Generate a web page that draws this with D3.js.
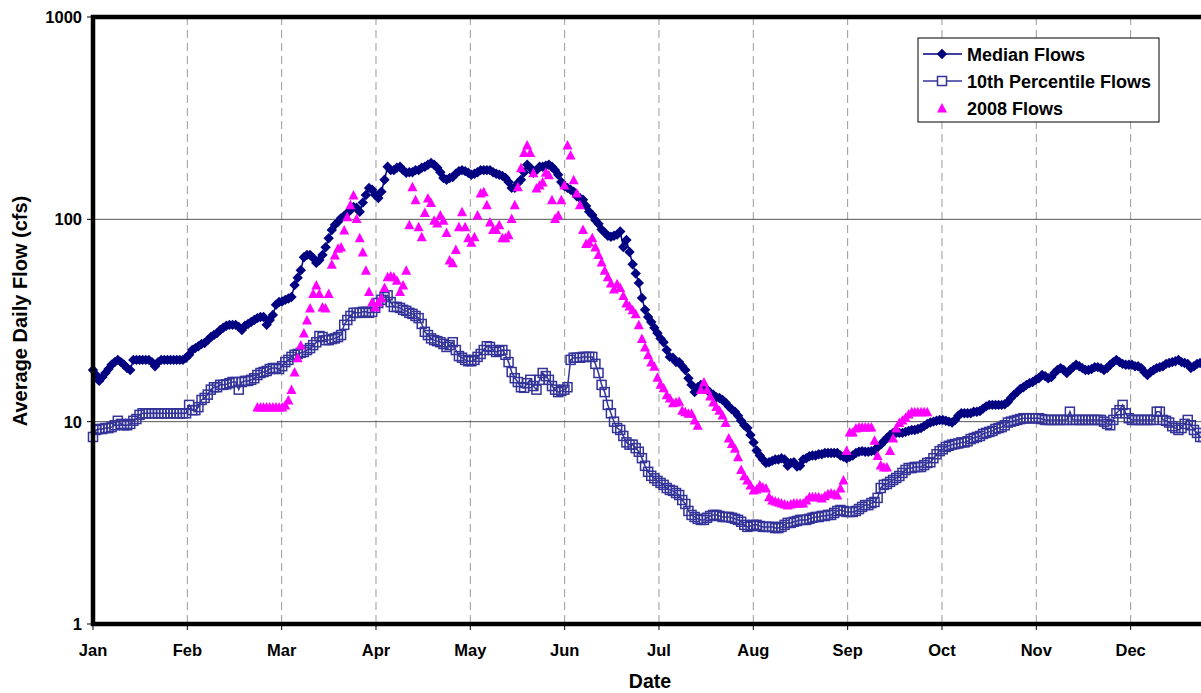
<!DOCTYPE html>
<html>
<head>
<meta charset="utf-8">
<script src="https://cdn.jsdelivr.net/npm/d3@7"></script>
<style>
  body { margin: 0; background: #fff; }
  svg { display: block; font-family: "Liberation Sans", Arial, sans-serif; font-weight: bold; }
</style>
</head>
<body>
<svg id="chart" width="1201" height="693"></svg>
<script>
// Month labels along the date axis
const monthLabels = ["Jan", "Feb", "Mar", "Apr", "May", "Jun", "Jul", "Aug", "Sep", "Oct", "Nov", "Dec"];
// Decade ticks on the log flow axis
const flowTicks = [1, 10, 100, 1000];

// Median daily flow (cfs), one value per day of the year
const medianFlows = [
  18.0,17.0,15.9,16.6,17.4,18.2,19.1,19.7,20.2,19.7,19.1,18.4,18.0,20.2,20.2,20.2,20.2,20.2,20.2,19.7,18.8,19.7,20.2,20.2,20.2,20.2,20.2,20.2,20.2,20.2,20.7,
  21.4,22.6,23.1,23.6,24.2,24.5,25.3,26.2,26.8,27.4,28.4,29.1,29.8,30.1,30.1,30.1,29.4,28.4,29.8,30.4,31.1,31.8,32.5,32.9,32.9,30.1,31.8,33.7,
  37.8,39.0,39.3,40.0,40.6,41.3,47.3,51.4,56.0,65.0,66.7,66.7,64.4,60.9,62.9,66.7,72.8,80.7,88.6,93.9,97.2,101.4,103.8,107.4,111,115,114,109,121,132,143,
  140,132,127.5,137,157,182,175,175,180,182,175,170,171,171,175,175,180,182,186,190,186,180,171,160,157,160,162,168,173,175,
  173,170,166,168,171,175,175,175,175,171,168,166,164,160,153,143,143,151,157,171,186,180,170,175,182,182,184,186,182,175,166,
  153,146,143,140,137,130,127.5,125,116.5,109,105,99,95,89,86,83,82,83,84,87,73,79,69,60,54,48.5,40.9,35.7,32.9,31.1,
  29.1,27.4,25.8,24.7,22.6,20.9,20.7,19.7,19.7,18.8,18.0,16.4,15.2,14.0,14.8,15.2,14.7,14.4,13.9,13.6,13.2,13.1,12.8,12.4,11.9,11.5,11.2,10.7,10.1,9.6,9.3,
  8.6,7.9,7.2,6.8,6.5,6.25,6.3,6.4,6.5,6.5,6.6,6.5,6.05,6.25,6.3,6.0,6.05,6.5,6.6,6.75,6.8,6.8,6.9,6.9,7.0,7.0,7.0,7.0,7.0,6.8,6.7,
  6.6,6.7,6.8,7.0,7.1,7.15,7.1,7.1,7.15,7.2,7.5,7.7,8.0,8.3,8.6,8.8,8.8,8.8,8.8,8.9,9.0,9.1,9.1,9.2,9.3,9.5,9.75,9.9,10.0,10.1,
  10.2,10.2,10.1,10.0,9.9,10.2,10.7,11.0,11.0,11.0,11.0,11.2,11.2,11.3,11.6,11.9,12.1,12.1,12.1,12.1,12.1,12.2,12.5,13.1,13.6,14.0,14.5,14.8,15.2,15.5,15.7,
  16.1,16.4,17.0,16.8,16.4,16.6,17.4,18.0,18.4,18.0,17.4,18.0,18.6,19.1,18.8,18.4,18.0,18.0,18.2,18.6,18.6,18.4,18.0,18.4,19.1,19.7,20.2,19.7,19.3,19.1,
  19.1,19.1,18.8,18.8,18.4,17.6,17.0,17.6,18.0,18.4,18.6,18.8,19.3,19.5,19.7,19.9,20.2,19.7,19.5,19.3,18.4,18.8,19.3,19.5,19.5,19.3,18.8,18.6,18.4,18.4,18.2
];

// 10th percentile daily flow (cfs), one value per day of the year
const tenthPercentileFlows = [
  8.4,9.1,9.2,9.2,9.3,9.3,9.4,9.6,10.1,9.75,9.6,9.6,9.75,10.1,10.3,10.8,11.0,11.0,11.0,11.0,11.0,11.0,11.0,11.0,11.0,11.0,11.0,11.0,11.0,11.0,11.0,
  12.1,11.4,11.4,11.8,12.8,13.1,13.6,14.4,14.8,14.8,15.2,15.2,15.3,15.5,15.7,15.7,14.4,15.7,15.9,15.9,16.1,16.4,17.0,17.4,17.6,17.8,18.2,18.4,
  18.4,18.2,18.8,19.7,20.2,20.9,21.4,21.6,21.9,22.1,22.6,23.1,23.9,24.7,26.5,26.2,25.3,25.3,25.6,25.8,26.2,26.8,30.1,31.8,33.3,34.5,34.5,34.5,34.9,34.9,34.5,
  34.9,36.5,38.6,40.0,41.3,42.1,39.0,36.9,36.9,36.5,35.7,35.3,34.5,34.1,33.3,32.5,30.4,27.8,26.8,25.8,25.3,25.0,24.7,24.2,23.4,23.9,24.7,22.6,21.1,20.7,
  20.2,19.9,19.9,20.2,20.9,21.6,22.6,23.6,23.4,22.6,22.1,22.4,22.6,21.4,19.7,17.6,16.4,15.7,14.8,14.7,15.5,16.1,15.0,14.4,16.1,17.4,16.8,16.1,15.0,14.4,14.0,
  14.2,14.4,14.8,20.2,20.7,20.7,20.7,20.9,20.9,20.9,20.9,19.3,17.4,15.2,14.0,12.1,11.0,10.0,9.3,9.1,8.5,7.9,7.7,7.7,7.4,7.1,6.6,6.05,5.65,5.4,
  5.25,5.1,4.98,4.87,4.7,4.6,4.55,4.44,4.34,4.1,3.92,3.62,3.46,3.38,3.31,3.27,3.27,3.35,3.42,3.46,3.46,3.42,3.38,3.38,3.38,3.35,3.31,3.27,3.2,3.09,3.02,
  3.05,3.09,3.09,3.05,3.02,3.02,3.02,3.02,2.98,2.98,3.02,3.09,3.16,3.16,3.2,3.23,3.27,3.27,3.27,3.31,3.35,3.38,3.38,3.42,3.42,3.46,3.46,3.54,3.62,3.66,3.62,
  3.58,3.58,3.58,3.62,3.7,3.79,3.87,3.87,3.96,4.01,4.2,4.7,4.87,4.92,5.04,5.15,5.27,5.39,5.58,5.77,5.9,5.9,5.97,5.97,5.97,6.1,6.25,6.3,6.6,6.9,
  7.15,7.3,7.5,7.6,7.7,7.75,7.8,7.9,7.9,8.0,8.2,8.3,8.4,8.5,8.7,8.8,8.9,9.0,9.2,9.3,9.4,9.6,9.9,10.0,10.1,10.2,10.3,10.4,10.4,10.4,10.4,
  10.4,10.4,10.3,10.2,10.2,10.2,10.2,10.2,10.2,10.2,10.2,11.2,10.2,10.2,10.2,10.2,10.2,10.2,10.2,10.2,10.2,10.2,10.0,9.75,9.6,10.2,11.0,11.4,12.1,11.0,
  10.4,10.2,10.2,10.2,10.2,10.2,10.2,10.2,10.2,11.2,11.2,10.2,10.1,9.9,9.5,9.3,9.1,9.3,9.75,10.2,9.6,9.1,8.8,8.4,8.4,8.5,8.6,8.7,8.8,8.9,9.0
];

// 2008 daily flow (cfs); the record starts on day index 53 (Feb 23)
const flows2008StartDay = 53;
const flows2008 = [
  11.8,11.8,11.8,11.8,11.8,11.8,
  11.8,11.8,11.8,12.1,12.8,14.4,17.6,20.7,23.9,27.4,31.8,36.5,43,47.3,43,36.9,36.5,43,60,66.7,72,73,88.6,103,118,132,101,81,69,56,44,
  39,36.9,39,41,46,52,52.4,52,50,44,47.3,56,94,145,125,92,82,108,127.5,121,99,96,105,99,86,63,61,71,92,109,
  92,81,77,82,105,135,137,118,97,89,89,94,81,81,84,101,118,145,180,214,233,214,170,143,148,153,171,166,125,101,105,
  125,148,233,208,157,135,118,89,76,77,81,73,67,61.5,56,52,48.5,45.3,48,46,42,38.6,37.3,35.7,34.1,30.1,25.8,23.4,21.4,19.7,
  18.8,16.6,15.3,14.7,13.6,13.1,12.4,12.5,12.6,11.4,11.2,11.0,11.0,10.2,9.6,14.4,15.7,14.4,13.4,12.5,11.9,11.4,10.8,9.9,8.3,7.8,7.4,6.7,5.8,5.4,5.15,
  4.87,4.6,4.65,4.87,4.76,4.7,4.25,4.1,4.05,4.01,3.96,3.92,3.87,3.92,3.96,3.96,3.96,3.96,4.1,4.25,4.25,4.25,4.25,4.2,4.3,4.4,4.44,4.4,4.34,4.7,5.15,
  7.2,8.9,8.9,9.3,9.4,9.4,9.4,9.4,9.4,8.1,6.8,6.1,5.97,5.97,7.2,8.3,9.3,9.9,10.2,10.5,10.9,11.2,11.2,11.2,11.2,11.2,11.2
];

const seriesNames = ["Median Flows", "10th Percentile Flows", "2008 Flows"];

const svg = d3.select("#chart");
const plot = { left: 93, top: 17, bottom: 624, monthWidth: 94.33 };
const plotRight = plot.left + 12 * plot.monthWidth;
const daysInYear = 365;

const x = d3.scaleLinear().domain([0, daysInYear]).range([plot.left, plotRight]);
const y = d3.scaleLog().domain([1, 1000]).range([plot.bottom, plot.top]);
const monthPos = i => x(i * daysInYear / 12);

const colors = { median: "#000080", tenth: "#333399", y2008: "#ff00ff" };
const diamond = "M0,-5.2L5.2,0L0,5.2L-5.2,0Z";
const triangle = "M0,-5L5,4.5L-5,4.5Z";
const sq = 9;

// Gridlines
const grid = svg.append("g");
grid.selectAll("line.vgrid").data(d3.range(1, 12)).join("line")
  .attr("x1", d => monthPos(d)).attr("x2", d => monthPos(d))
  .attr("y1", plot.top).attr("y2", plot.bottom)
  .attr("stroke", "#9a9a9a").attr("stroke-width", 1).attr("stroke-dasharray", "8,5");
grid.selectAll("line.hgrid").data([10, 100]).join("line")
  .attr("x1", plot.left).attr("x2", plotRight)
  .attr("y1", d => y(d)).attr("y2", d => y(d))
  .attr("stroke", "#555").attr("stroke-width", 1);

// Series
const medianPts = medianFlows.map((v, i) => [i, v]);
const tenthPts = tenthPercentileFlows.map((v, i) => [i, v]);
const pts2008 = flows2008.map((v, i) => [i + flows2008StartDay, v]);

const line = d3.line().x(d => x(d[0])).y(d => y(d[1]));

svg.append("path").datum(medianPts).attr("d", line)
  .attr("fill", "none").attr("stroke", colors.median).attr("stroke-width", 1.5);
svg.append("g").selectAll("path").data(medianPts).join("path")
  .attr("transform", d => `translate(${x(d[0])},${y(d[1])})`)
  .attr("d", diamond)
  .attr("fill", colors.median);

svg.append("path").datum(tenthPts).attr("d", line)
  .attr("fill", "none").attr("stroke", colors.tenth).attr("stroke-width", 1.5);
svg.append("g").selectAll("rect").data(tenthPts).join("rect")
  .attr("x", d => x(d[0]) - sq / 2).attr("y", d => y(d[1]) - sq / 2)
  .attr("width", sq).attr("height", sq)
  .attr("fill", "none").attr("stroke", colors.tenth).attr("stroke-width", 1.5);

svg.append("g").selectAll("path").data(pts2008).join("path")
  .attr("transform", d => `translate(${x(d[0])},${y(d[1])})`)
  .attr("d", triangle)
  .attr("fill", colors.y2008);

// Plot frame (left, bottom, top)
svg.append("path")
  .attr("d", `M${plotRight + 10},${plot.top}L${plot.left},${plot.top}L${plot.left},${plot.bottom}L${plotRight + 10},${plot.bottom}`)
  .attr("fill", "none").attr("stroke", "#000").attr("stroke-width", 4.5);

// Y axis ticks and labels
const yAxis = svg.append("g");
yAxis.selectAll("line").data(flowTicks).join("line")
  .attr("x1", plot.left - 6).attr("x2", plot.left)
  .attr("y1", d => y(d)).attr("y2", d => y(d))
  .attr("stroke", "#000").attr("stroke-width", 1);
yAxis.selectAll("text").data(flowTicks).join("text")
  .attr("x", plot.left - 11).attr("y", d => y(d) + 6)
  .attr("text-anchor", "end").attr("font-size", 16.5)
  .text(d => d3.format("d")(d));

// X axis ticks and labels
const xAxis = svg.append("g");
xAxis.selectAll("line").data(monthLabels).join("line")
  .attr("x1", (d, i) => monthPos(i)).attr("x2", (d, i) => monthPos(i))
  .attr("y1", plot.bottom).attr("y2", plot.bottom + 6)
  .attr("stroke", "#000").attr("stroke-width", 1);
xAxis.selectAll("text").data(monthLabels).join("text")
  .attr("x", (d, i) => monthPos(i)).attr("y", 656)
  .attr("text-anchor", "middle").attr("font-size", 16.5)
  .text(d => d);

// Axis titles
svg.append("text").attr("x", 650).attr("y", 688)
  .attr("text-anchor", "middle").attr("font-size", 19.5).text("Date");
svg.append("text")
  .attr("transform", "translate(27,311) rotate(-90)")
  .attr("text-anchor", "middle").attr("font-size", 20)
  .text("Average Daily Flow (cfs)");

// Legend
const legend = svg.append("g").attr("transform", "translate(918,38)");
legend.append("rect").attr("width", 241).attr("height", 84)
  .attr("fill", "#fff").attr("stroke", "#000").attr("stroke-width", 1);
const rows = legend.selectAll("g").data(seriesNames).join("g")
  .attr("transform", (d, i) => `translate(0,${16 + i * 27})`);
rows.filter((d, i) => i < 2).append("line")
  .attr("x1", 5).attr("x2", 44).attr("y1", 0).attr("y2", 0)
  .attr("stroke", (d, i) => i === 0 ? colors.median : colors.tenth).attr("stroke-width", 1.5);
rows.filter((d, i) => i === 0).append("path")
  .attr("transform", "translate(24,0)").attr("d", diamond).attr("fill", colors.median);
rows.filter((d, i) => i === 1).append("rect")
  .attr("x", 24 - sq / 2).attr("y", -sq / 2).attr("width", sq).attr("height", sq)
  .attr("fill", "#fff").attr("stroke", colors.tenth).attr("stroke-width", 1.5);
rows.filter((d, i) => i === 2).append("path")
  .attr("transform", "translate(24,0)").attr("d", triangle).attr("fill", colors.y2008);
rows.append("text").attr("x", 49).attr("y", 6.5).attr("font-size", 18).text(d => d);
</script>
</body>
</html>
